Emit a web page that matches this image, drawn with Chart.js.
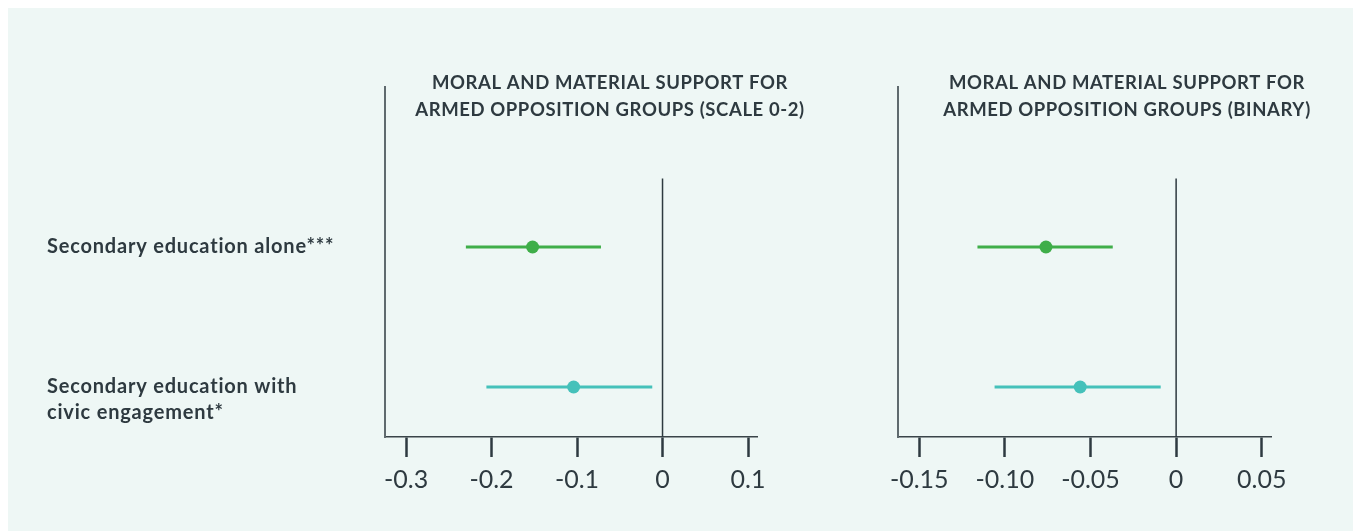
<!DOCTYPE html>
<html>
<head>
<meta charset="utf-8">
<script src="https://cdn.jsdelivr.net/npm/chart.js@4"></script>
<style>
  html, body { margin: 0; padding: 0; background: #ffffff; }
  #panel { position: absolute; left: 8px; top: 8px; width: 1345px; height: 523px; background: #eef7f5; }
  canvas { position: absolute; top: 0; }
  #left { left: 0; }
  #right { left: 800px; }
</style>
</head>
<body>
<div id="panel">
  <canvas id="left" width="800" height="523"></canvas>
  <canvas id="right" width="545" height="523"></canvas>
</div>
<script>
// categories (one row each, top to bottom)
const categories = ['Secondary education alone***', ['Secondary education with', 'civic engagement*']];
const rowColors = ['#3fae49', '#45c1ba'];

// panel 1: scale 0-2
const scaleTitle = ['MORAL AND MATERIAL SUPPORT FOR', 'ARMED OPPOSITION GROUPS (SCALE 0-2)'];
const scaleEst = [-0.152, -0.104];
const scaleLow = [-0.230, -0.206];
const scaleHigh = [-0.072, -0.012];
const scaleTicks = [-0.3, -0.2, -0.1, 0, 0.1];
const scaleTickLabels = ['-0.3', '-0.2', '-0.1', '0', '0.1'];

// panel 2: binary
const binTitle = ['MORAL AND MATERIAL SUPPORT FOR', 'ARMED OPPOSITION GROUPS (BINARY)'];
const binEst = [-0.076, -0.056];
const binLow = [-0.116, -0.106];
const binHigh = [-0.037, -0.009];
const binTicks = [-0.15, -0.10, -0.05, 0, 0.05];
const binTickLabels = ['-0.15', '-0.10', '-0.05', '0', '0.05'];

const ink = '#2e3a40';
const FONT = 'Lato';

var panelText = {
    id: 'panelText',
    afterDraw(chart, args, opts) {
        const ctx = chart.ctx;
        ctx.save();
        ctx.fillStyle = ink;
        ctx.font = 'bold 18.5px ' + FONT;
        ctx.letterSpacing = '0.6px';
        ctx.textAlign = 'center';
        ctx.textBaseline = 'alphabetic';
        opts.title.forEach(function(line, k){
            ctx.fillText(line, opts.titleX, opts.titleY + k * 26.7);
        });
        if (opts.showLabels) {
            const ys = chart.scales.y;
            ctx.textAlign = 'left';
            ctx.textBaseline = 'middle';
            ctx.font = 'bold 20px ' + FONT;
            ctx.letterSpacing = '0.8px';
            categories.forEach(function(lab, i){
                const lines = Array.isArray(lab) ? lab : [lab];
                lines.forEach(function(line, k){
                    ctx.fillText(line, ys.left, ys.getPixelForValue(i) + k * 26);
                });
            });
        }
        ctx.restore();
    }
};

function makeChart(id, est, low, high, ticks, tickLabels, xMin, xMax, title, opt){
    var datasets = [];
    // zero reference line
    datasets.push({
        type: 'line',
        data: [{x: 0, y: -0.49}, {x: 0, y: 1.357}],
        borderColor: ink,
        borderWidth: 1.5,
        pointRadius: 0,
        showLine: true
    });
    // confidence intervals
    for (var i = 0; i < est.length; i++) {
        datasets.push({
            type: 'line',
            data: [{x: low[i], y: i}, {x: high[i], y: i}],
            borderColor: rowColors[i],
            borderWidth: 3,
            pointRadius: 0,
            showLine: true
        });
    }
    // point estimates
    datasets.push({
        type: 'scatter',
        data: est.map(function(v, i){ return {x: v, y: i}; }),
        pointBackgroundColor: rowColors,
        pointBorderWidth: 0,
        pointRadius: 6.5
    });

    return new Chart(document.getElementById(id), {
        type: 'scatter',
        data: { datasets: datasets },
        options: {
            responsive: false,
            animation: false,
            layout: { padding: opt.padding },
            plugins: {
                legend: { display: false },
                tooltip: { enabled: false },
                panelText: { title: title, titleX: opt.titleX, titleY: 81.3, showLabels: opt.showLabels }
            },
            scales: {
                x: {
                    type: 'linear',
                    min: xMin,
                    max: xMax,
                    afterBuildTicks: function(s){ s.ticks = ticks.map(function(v){ return {value: v}; }); },
                    afterFit: function(s){ s.height = 94; },
                    border: { color: '#3a4449', width: 1.5 },
                    grid: { drawOnChartArea: false, drawTicks: true, tickLength: 20, tickWidth: 2.5, tickColor: ink },
                    ticks: {
                        padding: 8,
                        color: ink,
                        font: { family: FONT, size: 25 },
                        maxRotation: 0,
                        callback: function(v){ return tickLabels[ticks.indexOf(v)]; }
                    }
                },
                y: {
                    type: 'linear',
                    reverse: true,
                    min: -1.143,
                    max: 1.357,
                    afterFit: function(s){ s.width = opt.yWidth; },
                    border: { color: '#5f6a6e', width: 2 },
                    grid: { display: false },
                    ticks: { display: false }
                }
            }
        },
        plugins: [panelText]
    });
}

makeChart('left', scaleEst, scaleLow, scaleHigh, scaleTicks, scaleTickLabels, -0.3246, 0.1105, scaleTitle,
    { padding: { left: 39, top: 79, right: 51, bottom: 0 }, yWidth: 338, titleX: 602, showLabels: true });
makeChart('right', binEst, binLow, binHigh, binTicks, binTickLabels, -0.1624, 0.0554, binTitle,
    { padding: { left: 0, top: 79, right: 82, bottom: 0 }, yWidth: 90, titleX: 319, showLabels: false });
</script>
</body>
</html>
